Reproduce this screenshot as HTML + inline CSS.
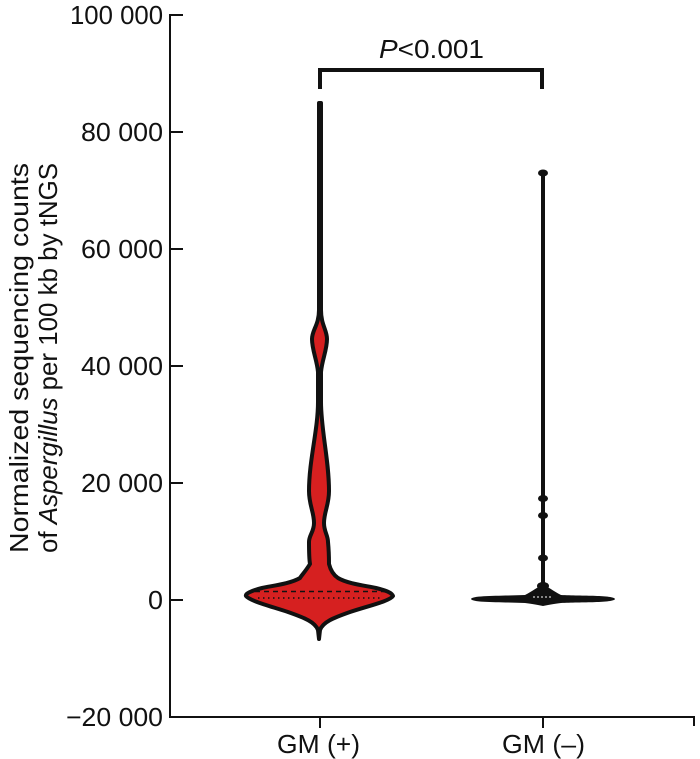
<!DOCTYPE html>
<html><head><style>body{margin:0;background:#fff}svg{display:block}text{font-family:"Liberation Sans",Arial,sans-serif;fill:#111}</style></head>
<body>
<svg width="700" height="759" viewBox="0 0 700 759" xmlns="http://www.w3.org/2000/svg">
<g stroke="#111" stroke-width="2" fill="none">
<line x1="170" y1="14" x2="170" y2="717"/>
<line x1="169" y1="717" x2="695" y2="717"/>
<line x1="170" y1="15" x2="183" y2="15"/>
<line x1="170" y1="132" x2="183" y2="132"/>
<line x1="170" y1="249" x2="183" y2="249"/>
<line x1="170" y1="366" x2="183" y2="366"/>
<line x1="170" y1="483" x2="183" y2="483"/>
<line x1="170" y1="600" x2="183" y2="600"/>
<line x1="320" y1="717" x2="320" y2="728"/>
<line x1="543" y1="717" x2="543" y2="728"/>
<line x1="694" y1="717" x2="694" y2="726"/>
</g>
<g font-size="26">
<text x="70" y="24" textLength="93" lengthAdjust="spacingAndGlyphs">100 000</text>
<text x="81" y="141" textLength="82" lengthAdjust="spacingAndGlyphs">80 000</text>
<text x="81" y="258" textLength="82" lengthAdjust="spacingAndGlyphs">60 000</text>
<text x="81" y="375" textLength="82" lengthAdjust="spacingAndGlyphs">40 000</text>
<text x="81" y="492" textLength="82" lengthAdjust="spacingAndGlyphs">20 000</text>
<text x="148" y="609" textLength="15" lengthAdjust="spacingAndGlyphs">0</text>
<text x="66" y="726" textLength="97" lengthAdjust="spacingAndGlyphs">−20 000</text>
<text x="277" y="753" textLength="83" lengthAdjust="spacingAndGlyphs">GM (+)</text>
<text x="502" y="753" textLength="83" lengthAdjust="spacingAndGlyphs">GM (–)</text>
<text x="379" y="58" textLength="105" lengthAdjust="spacingAndGlyphs"><tspan font-style="italic">P</tspan>&lt;0.001</text>
</g>
<g font-size="26" transform="rotate(-90)">
<text x="-553" y="28" textLength="390" lengthAdjust="spacingAndGlyphs">Normalized sequencing counts</text>
<text x="-553" y="57" textLength="390" lengthAdjust="spacingAndGlyphs">of <tspan font-style="italic">Aspergillus</tspan> per 100 kb by tNGS</text>
</g>
<path d="M320 89 V70 H542 V89" stroke="#111" stroke-width="4" fill="none"/>
<path d="M319 103 L319 310 C319 325 312 330 312 339 C312 350 317 360 318 372 L318 402 C318 430 309 460 309 491 C309 505 314 512 314 523 C314 532 309 535 309 542 C309 552 309 558 310 564 C305 572 301 576 300 578 C290 584 270 586 262 588 C250 591 245 594 246 596 C250 601 270 606 288 612 C305 618 315 622 318 630 L319 639 L320 630 C323 622 333 618 350 612 C368 606 390 601 393 596 C392 593 388 591 376 588 C368 586 348 584 338 578 C335 576 331 572 329 564 C329 558 329 552 328 542 C328 535 324 532 324 523 C324 512 329 505 329 491 C329 460 321 430 321 402 L321 372 C322 360 327 350 327 339 C327 330 321 325 321 310 L321 103 Z" fill="#d62020" stroke="#111" stroke-width="4" stroke-linejoin="round"/>
<line x1="320" y1="140" x2="320" y2="172" stroke="#111" stroke-width="6"/>
<line x1="255" y1="591.5" x2="385" y2="591.5" stroke="#111" stroke-width="1.5" stroke-dasharray="5,4"/>
<line x1="258" y1="598" x2="382" y2="598" stroke="#111" stroke-width="1.5" stroke-dasharray="1.5,3.5"/>
<line x1="543" y1="173" x2="543" y2="595" stroke="#111" stroke-width="4"/>
<g fill="#111">
<ellipse cx="543" cy="173" rx="5" ry="3.5"/>
<ellipse cx="543" cy="498.5" rx="5" ry="3.5"/>
<ellipse cx="543" cy="515.5" rx="5" ry="3.5"/>
<ellipse cx="543" cy="558" rx="5" ry="3.5"/>
<ellipse cx="543" cy="586" rx="6" ry="4"/>
<path d="M471 599 C472 595 505 596 525 595 C533 591 537 587 543 585 C549 587 553 591 561 595 C581 596 614 595 615 599 C614 603 580 602 561 603 C553 604 548 605 543 606 C538 605 533 604 525 603 C506 602 472 603 471 599 Z"/>
</g>
<line x1="533" y1="597" x2="553" y2="597" stroke="#ccc" stroke-width="1.2" stroke-dasharray="2,2"/>
</svg>
</body></html>
